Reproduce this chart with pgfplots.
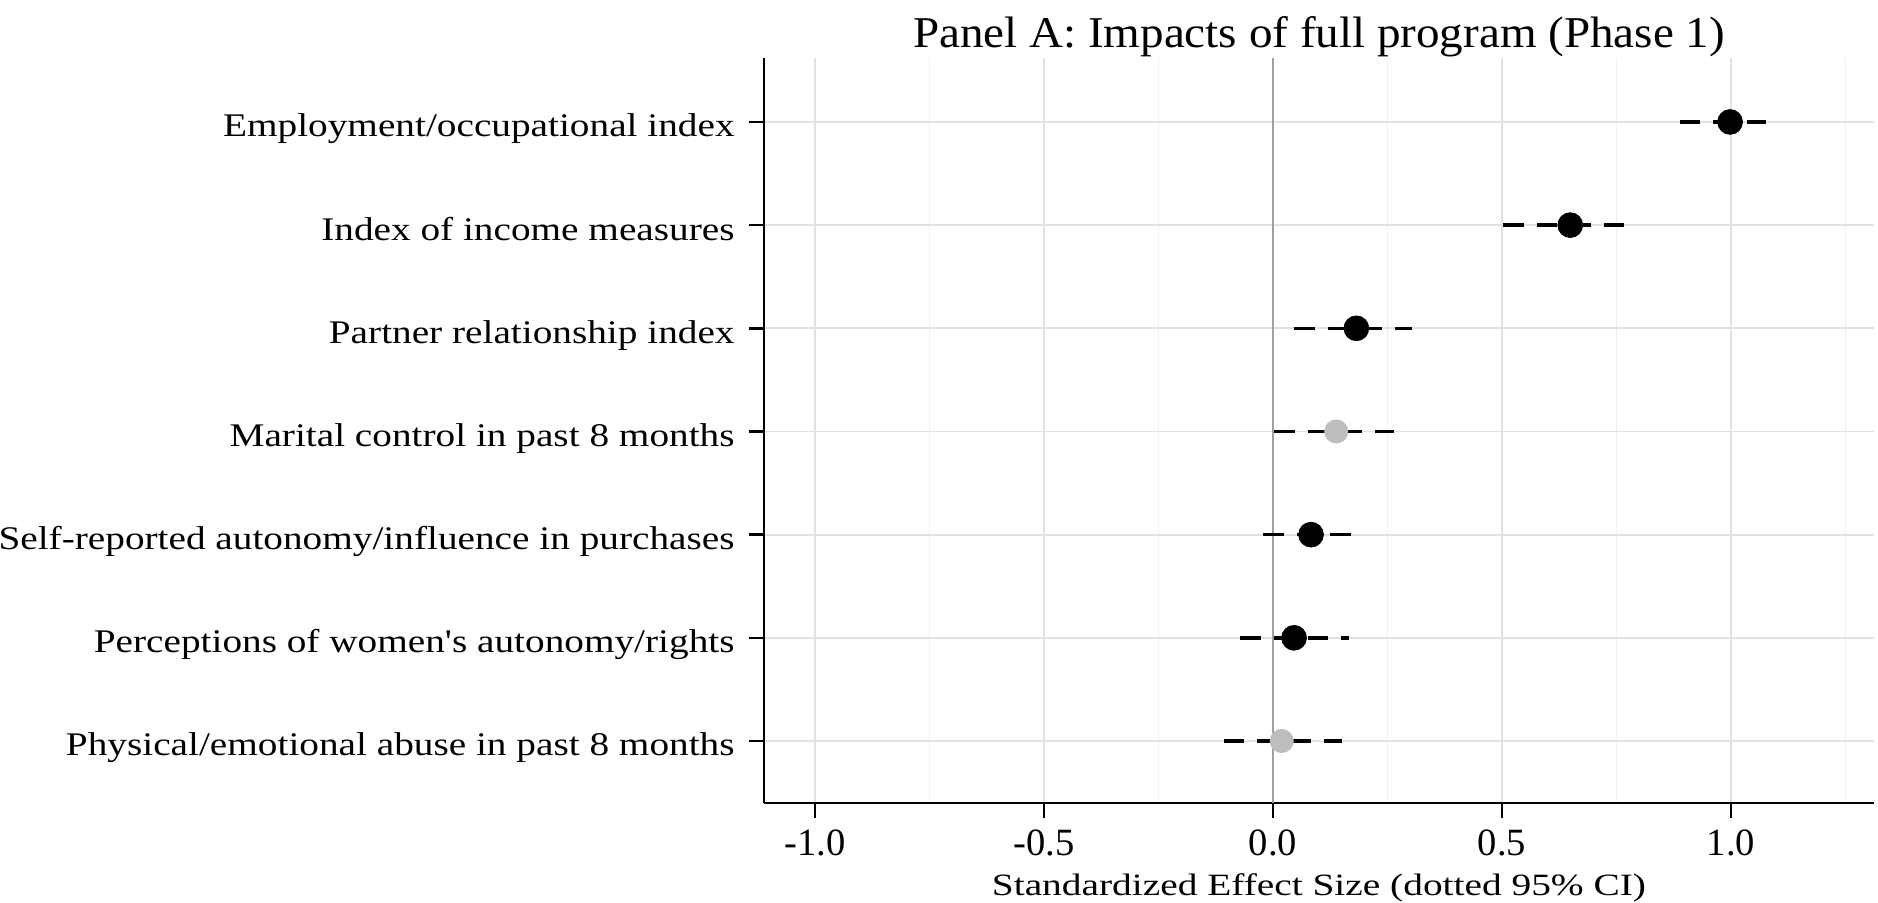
\documentclass[border=0pt]{standalone}
\usepackage{fontspec}
\setmainfont{Liberation Serif}
\newfontfamily\ylabfont{Liberation Serif}[FakeStretch=1.19]
\newfontfamily\titlefont{Liberation Serif}[FakeStretch=1.07]
\newfontfamily\xlabfont{Liberation Serif}[FakeStretch=1.27]
\usepackage{pgfplots}
\pgfplotsset{compat=1.18}
\usepackage{pgfplotstable}

\definecolor{ptgrey}{RGB}{190,190,190}
\definecolor{gridc}{RGB}{225,225,225}
\definecolor{gridm}{RGB}{240,240,240}
\definecolor{zeroc}{RGB}{160,160,160}

% row = position (7 = top), est = point estimate, lo/hi = 95% CI
\pgfplotstableread{
row est lo hi
7 0.998 0.888 1.077
6 0.649 0.502 0.770
5 0.182 0.046 0.303
3 0.083 -0.022 0.175
2 0.046 -0.071 0.165
}\sigdata
\pgfplotstableread{
row est lo hi
4 0.138 0.002 0.264
1 0.019 -0.108 0.150
}\insigdata

\begin{document}
\begin{tikzpicture}
\begin{axis}[
  name=ax,
  scale only axis,
  width=555pt, height=372.5pt,
  xmin=-1.1114, xmax=1.3122,
  ymin=0.399, ymax=7.62,
  axis x line*=bottom, axis y line*=left,
  axis line style={line width=1.2pt, black},
  xtick={-1,-0.5,0,0.5,1},
  xticklabels={-1.0,-0.5,0.0,0.5,1.0},
  minor xtick={-0.75,-0.25,0.25,0.75,1.25},
  ytick={1,2,3,4,5,6,7},
  yticklabels={Physical/emotional abuse in past 8 months,
               Perceptions of women's autonomy/rights,
               Self-reported autonomy/influence in purchases,
               Marital control in past 8 months,
               Partner relationship index,
               Index of income measures,
               Employment/occupational index},
  tick align=outside,
  major tick length=7.5pt,
  minor tick length=0pt,
  tick style={black, line width=1.2pt},
  xmajorgrids, xminorgrids, ymajorgrids,
  major grid style={gridc, line width=0.9pt},
  minor grid style={gridm, line width=0.9pt},
  extra x ticks={0},
  extra x tick labels={},
  extra x tick style={grid=major, major grid style={zeroc, line width=1.1pt}, major tick length=0pt},
  every axis title shift=0pt,
  title={Panel A: Impacts of full program (Phase 1)},
  title style={font=\titlefont\fontsize{22}{26}\selectfont, anchor=base, at={(axis description cs:0.5,1)}, yshift=5pt},
  xlabel={Standardized Effect Size (dotted 95\% CI)},
  xlabel style={font=\xlabfont\fontsize{15.5}{18}\selectfont, at={(axis description cs:0.5,-0.1235)}, anchor=base},
  yticklabel style={font=\ylabfont\fontsize{16.5}{19}\selectfont, anchor=base east, inner sep=0pt, xshift=-7pt, yshift=-7.5pt},
  xticklabel style={font=\fontsize{19.3}{22}\selectfont, anchor=base, inner sep=0pt, yshift=-19pt},
  clip=false,
]
% confidence intervals
\addplot[black, line width=1.7pt, dash pattern=on 10.3pt off 6.5pt] coordinates {(0.888,7) (1.077,7)};
\addplot[black, line width=1.7pt, dash pattern=on 10.3pt off 6.5pt] coordinates {(0.502,6) (0.770,6)};
\addplot[black, line width=1.7pt, dash pattern=on 10.3pt off 6.5pt] coordinates {(0.046,5) (0.303,5)};
\addplot[black, line width=1.7pt, dash pattern=on 10.3pt off 6.5pt] coordinates {(0.002,4) (0.264,4)};
\addplot[black, line width=1.7pt, dash pattern=on 10.3pt off 6.5pt] coordinates {(-0.022,3) (0.175,3)};
\addplot[black, line width=1.7pt, dash pattern=on 10.3pt off 6.5pt] coordinates {(-0.071,2) (0.165,2)};
\addplot[black, line width=1.7pt, dash pattern=on 10.3pt off 6.5pt] coordinates {(-0.108,1) (0.150,1)};
% point estimates
\addplot[only marks, mark=*, mark size=6.2pt, black, mark options={draw=black, fill=black}] table[x=est, y=row] {\sigdata};
\addplot[only marks, mark=*, mark size=5.8pt, ptgrey, mark options={draw=ptgrey, fill=ptgrey}] table[x=est, y=row] {\insigdata};
\end{axis}
\pgfresetboundingbox
\path[use as bounding box] ([xshift=-382pt, yshift=-50pt]ax.south west) rectangle ([xshift=2pt, yshift=29pt]ax.north east);
\end{tikzpicture}
\end{document}
